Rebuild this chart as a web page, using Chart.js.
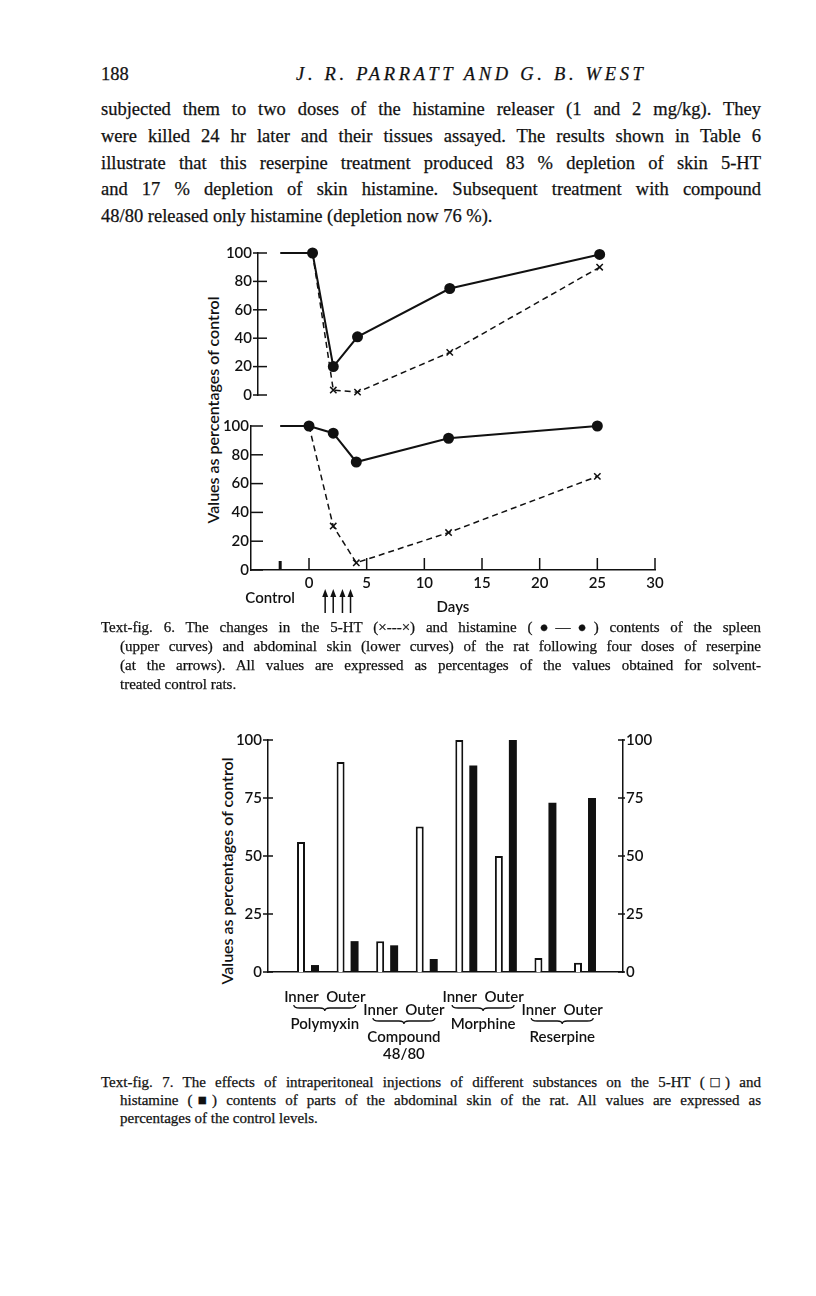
<!DOCTYPE html>
<html>
<head>
<meta charset="utf-8">
<script src="https://cdn.jsdelivr.net/npm/chart.js@4.4.0/dist/chart.umd.min.js"></script>
<style>
  body { margin: 0; background: #fff; }
  #page { position: relative; width: 816px; height: 1296px; overflow: hidden; color: #111; font-family: "Liberation Serif", serif; }
  .t { position: absolute; white-space: nowrap; -webkit-text-stroke: 0.25px #111; }
  .j { white-space: normal; text-align: justify; text-align-last: justify; }
  .body { font-size: 18.5px; line-height: 22px; height: 22px; }
  .cap { font-size: 15px; line-height: 18px; height: 18px; }
  .ytitle { position: absolute; width: 260px; height: 20px; line-height: 20px; text-align: center; font-family: Lato, sans-serif; font-weight: 600; font-size: 16px; color: #111; transform: rotate(-90deg); }
  canvas { position: absolute; }
</style>
</head>
<body>
<div id="page">
  <div class="t body" style="left:101px;top:63px;">188</div>
  <div class="t body" style="left:296px;top:63px;font-style:italic;letter-spacing:3.7px;">J. R. PARRATT AND G. B. WEST</div>

  <div class="t body j" style="left:101px;top:98px;width:660px;">subjected them to two doses of the histamine releaser (1 and 2 mg/kg). They</div>
  <div class="t body j" style="left:101px;top:125px;width:660px;">were killed 24 hr later and their tissues assayed. The results shown in Table 6</div>
  <div class="t body j" style="left:101px;top:152px;width:660px;">illustrate that this reserpine treatment produced 83 % depletion of skin 5-HT</div>
  <div class="t body j" style="left:101px;top:178px;width:660px;">and 17 % depletion of skin histamine.  Subsequent treatment with compound</div>
  <div class="t body" style="left:101px;top:205px;">48/80 released only histamine (depletion now 76 %).</div>

  <div class="ytitle" style="left:83px;top:400px;">Values as percentages of control</div>
  <canvas id="fig6a" width="530" height="175" style="left:150px;top:235px;"></canvas>
  <canvas id="fig6b" width="530" height="215" style="left:150px;top:410px;"></canvas>

  <div class="t cap j" style="left:101px;top:618px;width:660px;">Text-fig. 6. The changes in the 5-HT (×---×) and histamine (●—●) contents of the spleen</div>
  <div class="t cap j" style="left:120px;top:637px;width:641px;">(upper curves) and abdominal skin (lower curves) of the rat following four doses of reserpine</div>
  <div class="t cap j" style="left:120px;top:656px;width:641px;">(at the arrows).  All values are expressed as percentages of the values obtained for solvent-</div>
  <div class="t cap" style="left:120px;top:675px;">treated control rats.</div>

  <div class="ytitle" style="left:97px;top:861px;">Values as percentages of control</div>
  <canvas id="fig7" width="490" height="345" style="left:180px;top:725px;"></canvas>

  <div class="t cap j" style="left:101px;top:1073px;width:660px;">Text-fig. 7. The effects of intraperitoneal injections of different substances on the 5-HT (□) and</div>
  <div class="t cap j" style="left:120px;top:1091px;width:641px;">histamine (■) contents of parts of the abdominal skin of the rat.  All values are expressed as</div>
  <div class="t cap" style="left:120px;top:1109px;">percentages of the control levels.</div>
</div>

<script>
// Text-fig. 6: values as % of control, x in days
const controlDay = -2.5;
const spleenDays = [0.3, 2.1, 4.2, 12.2, 25.2];
const spleenHistamine = [100, 20, 41, 75, 99];
const spleen5HT = [100, 3.5, 2, 30, 90];
const skinDays = [0, 2.1, 4.1, 12.1, 25];
const skinHistamine = [100, 95, 75, 91.5, 100];
const skin5HT = [100, 30.5, 5, 26, 65];
const doseDays = [1.4, 2.1, 2.9, 3.6];
const dayTicks = [0, 5, 10, 15, 20, 25, 30];

// Text-fig. 7: inner / outer abdominal skin for each treatment
const treatments = [['Polymyxin'], ['Compound', '48/80'], ['Morphine'], ['Reserpine']];
const sites = ['Inner', 'Outer'];
const bars5HT = [56, 90.5, 13.3, 62.7, 100, 50, 6, 4];
const barsHistamine = [3, 13.3, 11.5, 5.6, 89, 100, 73, 75];

const ink = '#111';
Chart.defaults.font.family = 'Lato, sans-serif';
Chart.defaults.font.size = 15;
Chart.defaults.font.weight = 600;
Chart.defaults.color = ink;
Chart.defaults.animation = false;
Chart.defaults.plugins.legend.display = false;
Chart.defaults.plugins.tooltip.enabled = false;
const labelFont = '600 15px Lato, sans-serif';

function pts(days, vals) {
  return days.map((d, i) => ({ x: d, y: vals[i] }));
}

function histSet(data, hideFirst) {
  return {
    data: data,
    borderColor: ink, borderWidth: 2,
    pointBackgroundColor: ink, pointBorderColor: ink,
    pointRadius: c => (hideFirst && c.dataIndex === 0 ? 0 : 4.5),
    clip: false
  };
}

function htSet(data) {
  return {
    data: data,
    borderColor: ink, borderWidth: 1.5, borderDash: [6, 4],
    pointStyle: 'crossRot', pointBorderColor: ink, pointBorderWidth: 1.5,
    pointRadius: c => (c.dataIndex === 0 ? 0 : 4.5),
    clip: false
  };
}

function line(ctx, x1, y1, x2, y2) {
  ctx.beginPath(); ctx.moveTo(x1, y1); ctx.lineTo(x2, y2); ctx.stroke();
}

function yAxis(padding) {
  return {
    min: 0, max: 100,
    grid: { display: false, drawTicks: false },
    border: { display: true, color: ink, width: 1.5 },
    ticks: { stepSize: 20, padding: padding },
    afterFit: s => { s.width = 50; }
  };
}

// y tick marks crossing the axis
function yTickMarks(chart, back, fwd) {
  const ctx = chart.ctx, y = chart.scales.y, left = chart.chartArea.left;
  ctx.save();
  ctx.strokeStyle = ink; ctx.lineWidth = 1.5;
  y.ticks.forEach(t => {
    const py = y.getPixelForValue(t.value);
    line(ctx, left - back, py, left + fwd, py);
  });
  ctx.restore();
}

// upper panel: spleen
new Chart(document.getElementById('fig6a'), {
  type: 'line',
  data: {
    datasets: [
      histSet([{ x: controlDay, y: 100 }].concat(pts(spleenDays, spleenHistamine)), true),
      htSet(pts(spleenDays, spleen5HT))
    ]
  },
  options: {
    responsive: false,
    layout: { padding: { left: 58, top: 18, right: 25, bottom: 15 } },
    scales: {
      x: { type: 'linear', min: -4.43, max: 30, display: false },
      y: yAxis(6)
    }
  },
  plugins: [{
    id: 'spleenTicks',
    afterDraw(chart) { yTickMarks(chart, 5, 9); }
  }]
});

// lower panel: abdominal skin
new Chart(document.getElementById('fig6b'), {
  type: 'line',
  data: {
    datasets: [
      histSet([{ x: controlDay, y: 100 }].concat(pts(skinDays, skinHistamine)), true),
      htSet(pts(skinDays, skin5HT))
    ]
  },
  options: {
    responsive: false,
    layout: { padding: { left: 51, top: 16, right: 25, bottom: 25 } },
    scales: {
      x: {
        type: 'linear', min: -5.03, max: 30,
        afterBuildTicks: s => { s.ticks = dayTicks.map(v => ({ value: v })); },
        grid: { display: false, drawTicks: false },
        border: { display: true, color: ink, width: 1.5 },
        ticks: { padding: 4, autoSkip: false, maxRotation: 0 },
        afterFit: s => { s.height = 30; }
      },
      y: yAxis(2)
    }
  },
  plugins: [{
    id: 'skinAxes',
    afterDraw(chart) {
      yTickMarks(chart, 1, 12);
      const ctx = chart.ctx, x = chart.scales.x, area = chart.chartArea;
      const bottom = area.bottom;
      ctx.save();
      ctx.strokeStyle = ink; ctx.fillStyle = ink; ctx.lineWidth = 1.5;
      dayTicks.forEach(d => {
        const px = x.getPixelForValue(d);
        line(ctx, px, bottom, px, bottom - 12);
      });
      const cx = x.getPixelForValue(controlDay);
      ctx.fillRect(cx - 1.5, bottom - 9, 3, 9);
      ctx.font = labelFont;
      ctx.textAlign = 'center'; ctx.textBaseline = 'middle';
      ctx.fillText('Control', cx - 10, bottom + 28);
      ctx.fillText('Days', (area.left + area.right) / 2, bottom + 37);
      // reserpine doses
      doseDays.forEach(d => {
        const px = x.getPixelForValue(d);
        line(ctx, px, bottom + 43, px, bottom + 24);
        ctx.beginPath();
        ctx.moveTo(px, bottom + 19);
        ctx.lineTo(px - 3, bottom + 27);
        ctx.lineTo(px + 3, bottom + 27);
        ctx.closePath(); ctx.fill();
      });
      ctx.restore();
    }
  }]
});

// Text-fig. 7
function brace(ctx, cx, y, w) {
  const h = 6, l = cx - w / 2, r = cx + w / 2;
  ctx.beginPath();
  ctx.moveTo(l, y);
  ctx.quadraticCurveTo(l, y + h / 2, l + 6, y + h / 2);
  ctx.lineTo(cx - 5, y + h / 2);
  ctx.quadraticCurveTo(cx, y + h / 2, cx, y + h);
  ctx.quadraticCurveTo(cx, y + h / 2, cx + 5, y + h / 2);
  ctx.lineTo(r - 6, y + h / 2);
  ctx.quadraticCurveTo(r, y + h / 2, r, y);
  ctx.stroke();
}

new Chart(document.getElementById('fig7'), {
  type: 'bar',
  data: {
    datasets: [
      { data: bars5HT.map((v, i) => ({ x: i, y: v })), backgroundColor: '#fff', borderColor: ink, borderWidth: 2 },
      { data: barsHistamine.map((v, i) => ({ x: i, y: v })), backgroundColor: ink, borderWidth: 0 }
    ]
  },
  options: {
    responsive: false,
    categoryPercentage: 0.707,
    barPercentage: 0.57,
    layout: { padding: { left: 48, top: 14, right: 12, bottom: 98 } },
    scales: {
      x: {
        type: 'linear', min: -1.011, max: 7.96, offset: false,
        grid: { display: false, drawTicks: false },
        border: { display: true, color: ink, width: 1.5 },
        ticks: { display: false },
        afterFit: s => { s.height = 0; }
      },
      y: {
        min: 0, max: 100,
        grid: { display: false, drawTicks: false },
        border: { display: true, color: ink, width: 1.5 },
        ticks: { stepSize: 25, padding: 6 },
        afterFit: s => { s.width = 40; }
      },
      y2: {
        position: 'right', min: 0, max: 100,
        grid: { display: false, drawTicks: false },
        border: { display: true, color: ink, width: 1.5 },
        ticks: { stepSize: 25, padding: 3 },
        afterFit: s => { s.width = 35; }
      }
    }
  },
  plugins: [{
    id: 'groupLabels',
    afterDraw(chart) {
      const ctx = chart.ctx, x = chart.scales.x, y = chart.scales.y, area = chart.chartArea;
      ctx.save();
      ctx.strokeStyle = ink; ctx.fillStyle = ink; ctx.lineWidth = 1.5;
      y.ticks.forEach(t => {
        const py = y.getPixelForValue(t.value);
        line(ctx, area.left - 5, py, area.left + 5, py);
        line(ctx, area.right - 5, py, area.right + 2, py);
      });
      ctx.font = labelFont;
      ctx.textAlign = 'center'; ctx.textBaseline = 'middle';
      treatments.forEach((name, g) => {
        const cx = (x.getPixelForValue(2 * g) + x.getPixelForValue(2 * g + 1)) / 2 - 3;
        const row = g % 2 === 0 ? 0 : 13;
        const top = area.bottom + 25 + row;
        ctx.fillText(sites.join('  '), cx, top);
        ctx.lineWidth = 1.3;
        brace(ctx, cx, top + 8, 62);
        name.forEach((part, k) => ctx.fillText(part, cx, top + 27 + k * 17));
      });
      ctx.restore();
    }
  }]
});
</script>
</body>
</html>
